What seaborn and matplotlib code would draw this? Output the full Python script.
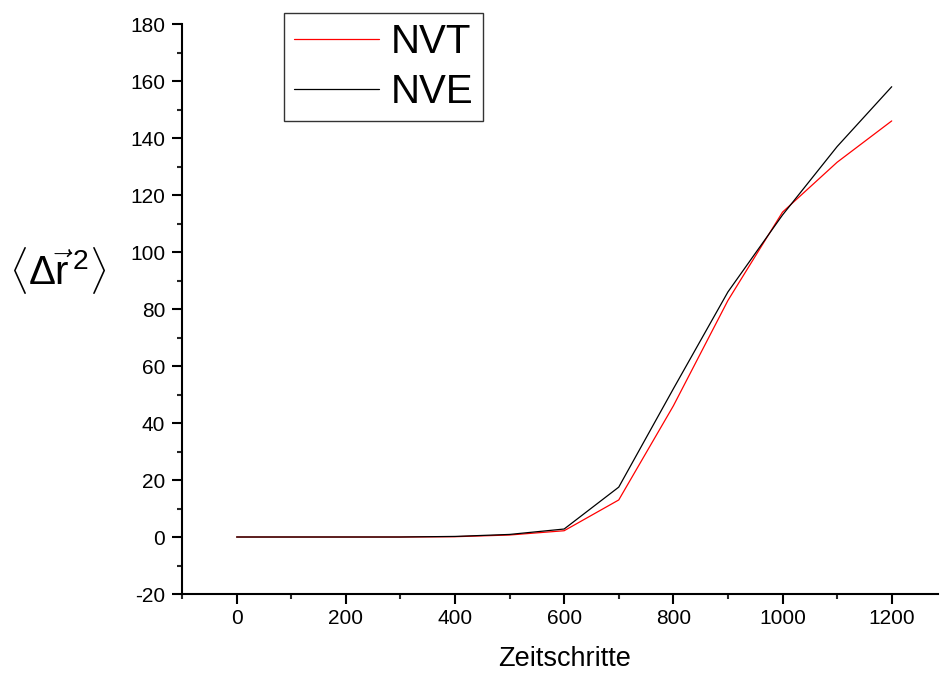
import pandas as pd
import matplotlib
matplotlib.use('Agg')
import matplotlib.pyplot as plt
import seaborn as sns
from matplotlib.ticker import MultipleLocator

steps = [0, 100, 200, 300, 400, 500, 600, 700, 800, 900, 1000, 1100, 1200]
nvt = [0, 0, 0, 0, 0.1, 0.7, 2.2, 13, 46, 83, 114, 131.5, 146]
nve = [0, 0, 0, 0, 0.2, 0.9, 2.8, 17.5, 52, 86, 113, 137, 158]


def collect_data():
    df = pd.DataFrame({'Zeitschritte': steps * 2,
                       'msd': nvt + nve,
                       'ens': ['NVT'] * len(steps) + ['NVE'] * len(steps)})
    return df


def main():
    sns.set_style('ticks')
    plt.rcParams['font.family'] = ['Liberation Sans', 'DejaVu Sans']
    plt.rcParams['mathtext.fontset'] = 'custom'
    plt.rcParams['mathtext.rm'] = 'Liberation Sans'
    plt.rcParams['mathtext.it'] = 'Liberation Sans:italic'
    plt.rcParams['axes.unicode_minus'] = False
    plt.rcParams['text.color'] = 'black'
    plt.rcParams['axes.labelcolor'] = 'black'

    df = collect_data()
    fig = plt.figure(figsize=(9.4, 6.75), dpi=100)
    ax = fig.add_axes([0.1936, 0.12, 0.8044, 0.8444])
    sns.lineplot(data=df, x='Zeitschritte', y='msd', hue='ens',
                 palette={'NVT': '#ff0000', 'NVE': '#000000'},
                 linewidth=0.9, ax=ax, legend=False)

    ax.set_xlim(-100, 1285)
    ax.set_ylim(-20, 180)
    ax.xaxis.set_major_locator(MultipleLocator(200))
    ax.xaxis.set_minor_locator(MultipleLocator(100))
    ax.yaxis.set_major_locator(MultipleLocator(20))
    ax.yaxis.set_minor_locator(MultipleLocator(10))
    ax.tick_params(which='major', direction='out', length=7, width=1.5,
                   labelsize=15, colors='black')
    ax.tick_params(which='minor', direction='out', length=3.8, width=1.5)
    ax.tick_params(axis='x', which='major', pad=4)
    ax.tick_params(axis='y', which='major', pad=5)
    sns.despine(ax=ax)
    for s in ['left', 'bottom']:
        ax.spines[s].set_linewidth(1.5)
        ax.spines[s].set_color('black')

    ax.set_xlabel('')
    ax.set_ylabel('')
    fig.text(0.601, 0.004, 'Zeitschritte', fontsize=19.5,
             ha='center', va='bottom')
    fig.text(0.061, 0.6, r'$\langle\Delta\vec{\mathrm{r}}^{\,2}\rangle$',
             fontsize=29, ha='center', va='center')

    h_nvt, = ax.plot([], [], color='#ff0000', linewidth=0.9)
    h_nve, = ax.plot([], [], color='#000000', linewidth=0.9)
    leg = ax.legend([h_nvt, h_nve], ['NVT', 'NVE'], loc='upper left',
                    bbox_to_anchor=(0.302, 0.981), bbox_transform=fig.transFigure,
                    fontsize=29, frameon=True, fancybox=False, handlelength=2.1,
                    handletextpad=0.3, borderpad=0.25, labelspacing=0.3,
                    borderaxespad=0)
    leg.get_frame().set_edgecolor('black')
    leg.get_frame().set_linewidth(1.0)

    fig.savefig('out.png', dpi=100)


main()
